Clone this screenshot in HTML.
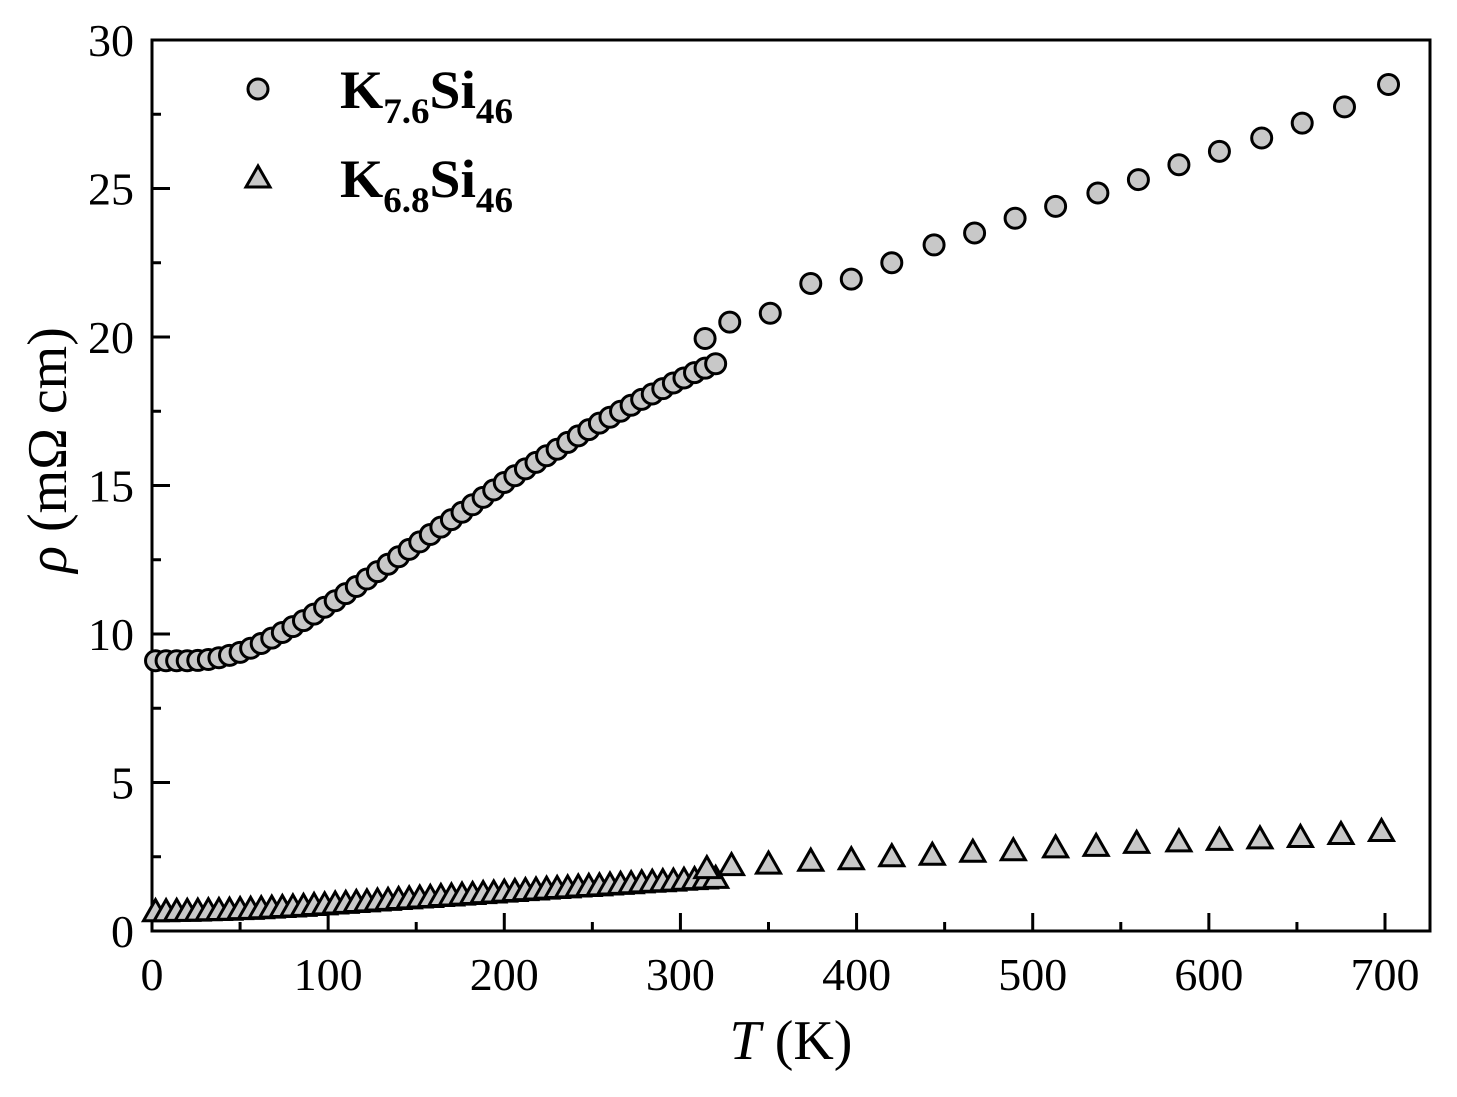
<!DOCTYPE html>
<html><head><meta charset="utf-8"><style>
html,body{margin:0;padding:0;background:#fff;}
svg{display:block;font-family:"Liberation Serif",serif;}
</style></head><body>
<svg id="chart" width="1457" height="1097" viewBox="0 0 1457 1097" xmlns="http://www.w3.org/2000/svg">
<g id="axes"></g>
<g id="marks"></g>
<g id="legend">
  <circle cx="258" cy="89" r="10" fill="#c8c8c8" stroke="#000" stroke-width="3"/>
  <text x="340" y="108" font-size="54" font-weight="bold" textLength="173" lengthAdjust="spacingAndGlyphs">K<tspan font-size="36" dy="15">7.6</tspan><tspan dy="-15">Si</tspan><tspan font-size="36" dy="15">46</tspan></text>
  <polygon points="258,166 270,187 246,187" fill="#c8c8c8" stroke="#000" stroke-width="3"/>
  <text x="340" y="197" font-size="54" font-weight="bold" textLength="173" lengthAdjust="spacingAndGlyphs">K<tspan font-size="36" dy="15">6.8</tspan><tspan dy="-15">Si</tspan><tspan font-size="36" dy="15">46</tspan></text>
</g>
<text x="791" y="1059" font-size="56" text-anchor="middle"><tspan font-style="italic">T</tspan> (K)</text>
<text transform="translate(66,450) rotate(-90)" font-size="56" text-anchor="middle"><tspan font-style="italic">ρ</tspan> (mΩ cm)</text>
</svg>
<script>
const lowT = [2,8,14,20,26,32,38,44,50,56,62,68,74,80,86,92,98,104,110,116,122,128,134,140,146,152,158,164,170,176,182,188,194,200,206,212,218,224,230,236,242,248,254,260,266,272,278,284,290,296,302,308,314,320];
const rhoK76Low = [9.1,9.1,9.1,9.1,9.11,9.14,9.2,9.28,9.38,9.52,9.68,9.86,10.05,10.25,10.45,10.67,10.9,11.12,11.36,11.6,11.85,12.1,12.35,12.6,12.85,13.1,13.35,13.6,13.85,14.1,14.35,14.6,14.85,15.1,15.33,15.56,15.78,16.0,16.22,16.45,16.67,16.88,17.1,17.3,17.5,17.7,17.9,18.08,18.26,18.45,18.62,18.8,18.95,19.1];
const rhoK68Low = [0.65,0.65,0.66,0.66,0.67,0.68,0.69,0.7,0.72,0.73,0.75,0.77,0.79,0.81,0.83,0.86,0.88,0.91,0.93,0.96,0.98,1.01,1.03,1.06,1.08,1.11,1.13,1.16,1.18,1.21,1.23,1.26,1.28,1.31,1.33,1.36,1.38,1.41,1.43,1.45,1.48,1.5,1.52,1.55,1.57,1.59,1.62,1.64,1.66,1.68,1.71,1.73,1.75,1.77];
const highTK76 = [314,328,351,374,397,420,444,467,490,513,537,560,583,606,630,653,677,702];
const rhoK76High = [19.95,20.5,20.8,21.8,21.95,22.5,23.1,23.5,24.0,24.4,24.85,25.3,25.8,26.25,26.7,27.2,27.75,28.5];
const highTK68 = [315,329,350,374,397,420,443,466,489,513,536,559,583,606,629,652,675,698];
const rhoK68High = [2.1,2.2,2.25,2.35,2.4,2.5,2.55,2.65,2.7,2.8,2.85,2.95,3.0,3.05,3.1,3.15,3.25,3.35];
const xTicks = [0,100,200,300,400,500,600,700];
const yTicks = [0,5,10,15,20,25,30];

const NS="http://www.w3.org/2000/svg";
const L=152,R=1430,T=40,B=931;
const xs=v=>L+v*(1385-152)/700;
const ys=v=>B-v*(B-T)/30;
function mk(tag,attrs,parent){const e=document.createElementNS(NS,tag);for(const k in attrs)e.setAttribute(k,attrs[k]);parent.appendChild(e);return e;}
const axes=document.getElementById('axes'), marks=document.getElementById('marks');
const frame=mk('rect',{x:L,y:T,width:R-L,height:B-T,fill:'none',stroke:'#000','stroke-width':3},axes);


xTicks.forEach(v=>{
  const t=mk('line',{x1:xs(v),x2:xs(v),y1:B,y2:B-18,stroke:'#000','stroke-width':3},axes);
  
  
  const lb=mk('text',{x:xs(v),y:B+59,'font-size':46,'text-anchor':'middle'},axes);
  lb.textContent=v;
  
  
  if(v+50<=720){
    const m=mk('line',{x1:xs(v+50),x2:xs(v+50),y1:B,y2:B-9,stroke:'#000','stroke-width':3},axes);
    
    
  }
});
yTicks.forEach(v=>{
  const t=mk('line',{x1:L,x2:L+18,y1:ys(v),y2:ys(v),stroke:'#000','stroke-width':3},axes);
  
  
  const lb=mk('text',{x:L-18,y:ys(v)+16,'font-size':46,'text-anchor':'end'},axes);
  lb.textContent=v;
  
  
  if(v<30){
    const m=mk('line',{x1:L,x2:L+9,y1:ys(v+2.5),y2:ys(v+2.5),stroke:'#000','stroke-width':3},axes);
    
    
  }
});
function circles(tx,ry){tx.forEach((t,i)=>{
  const c=mk('circle',{cx:xs(t),cy:ys(ry[i]),r:10,fill:'#c8c8c8',stroke:'#000','stroke-width':3},marks);
  
  
});}
function tris(tx,ry){tx.forEach((t,i)=>{
  const x=xs(t),y=ys(ry[i]);
  const p=mk('polygon',{points:`${x},${y-12} ${x+12},${y+9} ${x-12},${y+9}`,fill:'#c8c8c8',stroke:'#000','stroke-width':3},marks);
  
  
});}
tris(lowT,rhoK68Low); tris(highTK68,rhoK68High);
circles(lowT,rhoK76Low); circles(highTK76,rhoK76High);
</script>
</body></html>
